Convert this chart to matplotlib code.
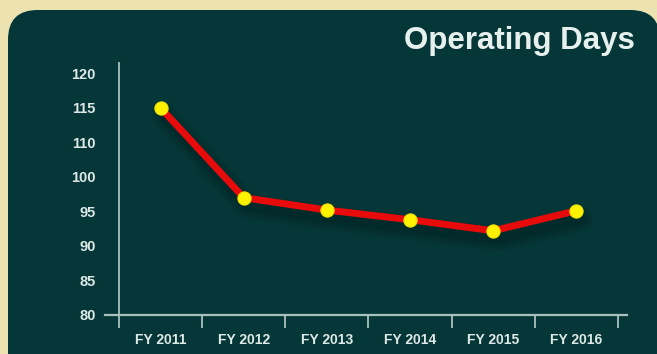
import matplotlib

matplotlib.use("Agg")
import matplotlib.patheffects as pe
import matplotlib.pyplot as plt
import numpy as np
from matplotlib.patches import FancyBboxPatch

years = ["FY 2011", "FY 2012", "FY 2013", "FY 2014", "FY 2015", "FY 2016"]
operating_days = [115, 97, 95.2, 93.8, 92.2, 95.1]
# axis labels are spaced evenly even though the step 100 -> 110 is doubled
y_ticks = [80, 85, 90, 95, 100, 110, 115, 120]

BEIGE = "#ede3b1"
PANEL = "#063738"
TEXT = "#dde9e6"
AXIS = "#a9c1bd"


def _forward(values):
    values = np.asarray(values, dtype=float)
    slots = np.interp(values, y_ticks, np.arange(len(y_ticks)))
    slots = np.where(values > y_ticks[-1], len(y_ticks) - 1 + (values - y_ticks[-1]) / 5, slots)
    return np.where(values < y_ticks[0], (values - y_ticks[0]) / 5, slots)


def _inverse(slots):
    slots = np.asarray(slots, dtype=float)
    values = np.interp(slots, np.arange(len(y_ticks)), y_ticks)
    values = np.where(slots > len(y_ticks) - 1, y_ticks[-1] + (slots - len(y_ticks) + 1) * 5, values)
    return np.where(slots < 0, y_ticks[0] + slots * 5, values)


plt.rcParams["font.family"] = ["Liberation Sans", "DejaVu Sans"]
plt.rcParams["font.weight"] = "bold"

fig = plt.figure(figsize=(6.57, 3.54), dpi=100)
fig.patch.set_facecolor(BEIGE)

W, H = 657, 354
panel = FancyBboxPatch(
    (8 / W, -0.1), 660 / W - 8 / W, (H - 10) / H + 0.1,
    boxstyle="round,pad=0,rounding_size=0.045",
    transform=fig.transFigure, facecolor=PANEL, edgecolor="none",
    mutation_aspect=W / H, zorder=-5,
)
fig.patches.append(panel)

ax = fig.add_axes([119 / W, 39 / H, 499 / W, 252 / H])
ax.set_facecolor("none")
ax.set_yscale("function", functions=(_forward, _inverse))

# soft drop shadow built from several faint, widening strokes
shadow = [
    pe.SimpleLineShadow(offset=(3, -6), shadow_color="black", alpha=0.06, linewidth=w)
    for w in (18, 14, 10, 7)
]

x = np.arange(len(years))
ax.plot(
    x, operating_days, color="#e80b0b", linewidth=5, solid_capstyle="round",
    solid_joinstyle="round", zorder=3,
    path_effects=shadow + [pe.Normal()],
)
ax.plot(
    x, operating_days, linestyle="none", marker="o", markersize=9.5,
    markerfacecolor="#fff200", markeredgecolor="#f4e600", markeredgewidth=0.8, zorder=4,
)

ax.set_xlim(-0.5, len(years) - 0.5)
ax.set_ylim(80, 121.5)

ax.set_yticks(y_ticks)
ax.set_yticklabels([str(v) for v in y_ticks])
ax.yaxis.set_minor_locator(matplotlib.ticker.NullLocator())
ax.tick_params(axis="y", length=0, pad=17, labelsize=10.5, labelcolor=TEXT)

ax.set_xticks(x)
ax.set_xticklabels(years)
ax.set_xticks(np.arange(len(years) + 1) - 0.5, minor=True)
ax.tick_params(axis="x", which="major", length=0, pad=13, labelsize=10, labelcolor=TEXT)
ax.tick_params(axis="x", which="minor", length=9, width=1.3, color=AXIS, direction="out")

for side in ("top", "right", "bottom"):
    ax.spines[side].set_visible(False)
ax.spines["left"].set_color(AXIS)
ax.spines["left"].set_linewidth(1.3)
ax.plot([-0.028, 1.018], [0, 0], transform=ax.transAxes, color=AXIS,
        linewidth=1.6, clip_on=False, zorder=2)

fig.text(635 / W, 1 - 41 / H, "Operating Days", ha="right", va="center",
         fontsize=22.5, fontweight="bold", color="#e6f1ee")

fig.savefig("out.png", dpi=100, facecolor=fig.get_facecolor())
